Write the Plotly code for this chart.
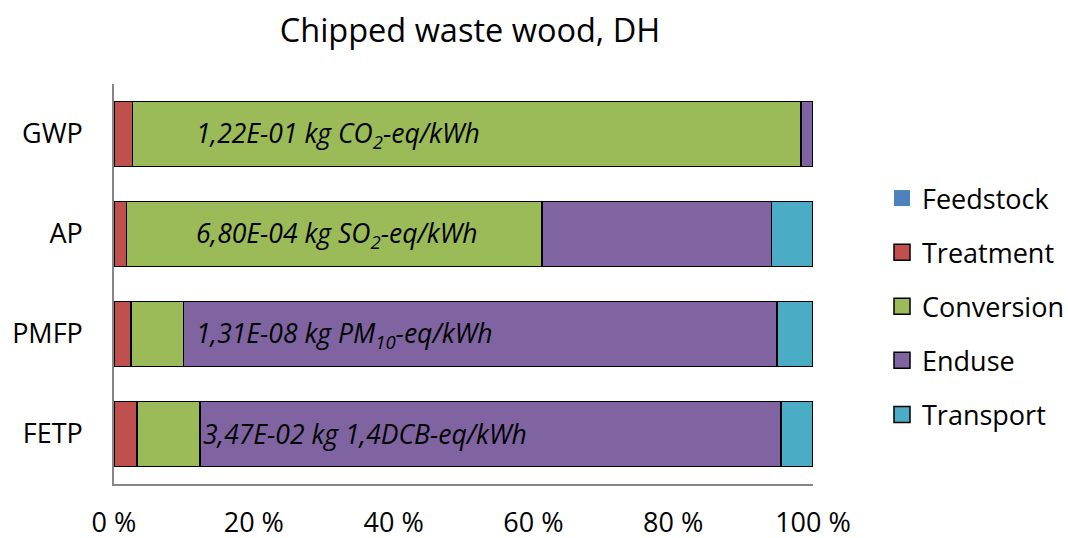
import plotly.graph_objects as go

# Impact categories (top to bottom) and share of each life-cycle stage, in %
categories = ["GWP", "AP", "PMFP", "FETP"]
feedstock = [0.0, 0.0, 0.0, 0.0]
treatment = [2.62, 1.82, 2.43, 3.29]
conversion = [95.63, 59.41, 7.49, 9.02]
enduse = [1.75, 32.83, 84.90, 83.13]
transport = [0.0, 5.94, 5.18, 4.56]

totals = [
    "1,22E-01 kg CO<sub>2</sub>-eq/kWh",
    "6,80E-04 kg SO<sub>2</sub>-eq/kWh",
    "1,31E-08 kg PM<sub>10</sub>-eq/kWh",
    "3,47E-02 kg 1,4DCB-eq/kWh",
]
total_pos = [11.4, 11.4, 11.4, 12.4]

tick_vals = [0, 20, 40, 60, 80, 100]
tick_text = ["0 %", "20 %", "40 %", "60 %", "80 %", "100 %"]

series = [
    ("Feedstock", feedstock, "#4F81BD"),
    ("Treatment", treatment, "#C0504D"),
    ("Conversion", conversion, "#9BBB59"),
    ("Enduse", enduse, "#8064A2"),
    ("Transport", transport, "#4BACC6"),
]

FONT = "Open Sans"

fig = go.Figure()
for name, vals, color in series:
    edge = 0 if name == "Feedstock" else 1.5
    fig.add_trace(go.Bar(
        y=categories, x=vals, name=name, orientation="h",
        legendgroup=name, showlegend=False,
        marker=dict(color=color, line=dict(color="#000000", width=edge)),
        hoverinfo="x+name",
    ))
    # larger square swatch for the legend entry
    fig.add_trace(go.Scatter(
        x=[None], y=[None], mode="markers", name=name, legendgroup=name,
        marker=dict(symbol="square", size=16, color=color,
                    line=dict(color="#000000", width=edge)),
        hoverinfo="skip",
    ))

for cat, txt, pos in zip(categories, totals, total_pos):
    fig.add_annotation(x=pos, y=cat, xref="x", yref="y", text="<i>" + txt + "</i>",
                       showarrow=False, xanchor="left", yanchor="middle",
                       font=dict(family=FONT, size=26.5, color="#000000"))

fig.update_layout(
    width=1068, height=538,
    barmode="stack", bargap=0.35,
    paper_bgcolor="white", plot_bgcolor="white",
    margin=dict(l=114, r=255, t=84, b=54),
    title=dict(text="Chipped waste wood, DH", x=470 / 1068, xanchor="center",
               y=1 - 31 / 538, yanchor="middle",
               font=dict(family=FONT, size=32.5, color="#000000")),
    font=dict(family=FONT, size=27, color="#000000"),
    legend=dict(xref="container", yref="container", x=882 / 1068, y=1 - 174 / 538,
                xanchor="left", yanchor="top", traceorder="grouped",
                tracegroupgap=16, font=dict(family=FONT, size=27, color="#000000"),
                itemwidth=30, itemsizing="trace", maxheight=500),
    showlegend=True,
)
fig.update_xaxes(range=[0, 100], tickvals=tick_vals, ticktext=tick_text,
                 showgrid=False, zeroline=False, showline=True, linecolor="#868686",
                 linewidth=1.5, ticks="", ticklabelstandoff=14, automargin=False,
                 tickfont=dict(family=FONT, size=27))
fig.update_yaxes(autorange="reversed", showgrid=False, zeroline=False, showline=True,
                 linecolor="#868686", linewidth=1.5, ticks="", ticklabelstandoff=24,
                 automargin=False, tickfont=dict(family=FONT, size=27))

fig.write_html("out.html")
